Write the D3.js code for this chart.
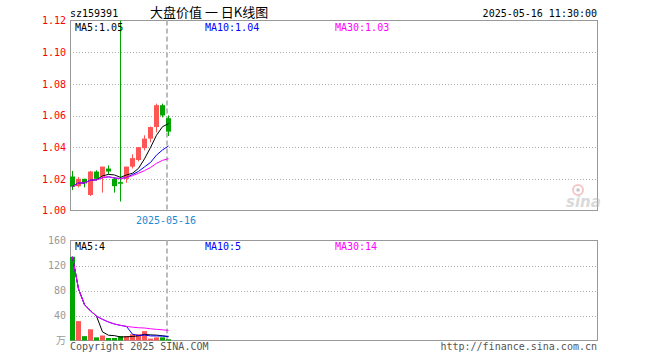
<!DOCTYPE html>
<html><head><meta charset="utf-8">
<script src="https://cdn.jsdelivr.net/npm/d3@7"></script>
<style>body{margin:0;background:#fff}svg{display:block}</style>
</head><body><svg id="c" width="660" height="360"></svg>
<script>
// ---- data ----
const code = "sz159391";
const title = "大盘价值 一 日K线图";
const stamp = "2025-05-16 11:30:00";
const dates = ["2025-04-21","2025-04-22","2025-04-23","2025-04-24","2025-04-25","2025-04-28","2025-04-29","2025-04-30","2025-05-06","2025-05-07","2025-05-08","2025-05-09","2025-05-12","2025-05-13","2025-05-14","2025-05-15","2025-05-16"];
const opens  = [1.0215,1.0154,1.0200,1.0098,1.0246,1.0213,1.0265,1.0200,1.0179,1.0200,1.0277,1.0319,1.0394,1.0454,1.0527,1.0665,1.0583];
const highs  = [1.0250,1.0212,1.0201,1.0250,1.0254,1.0277,1.0285,1.0208,1.1200,1.0277,1.0355,1.0400,1.0475,1.0530,1.0675,1.0675,1.0600];
const lows   = [1.0129,1.0146,1.0146,1.0092,1.0192,1.0113,1.0227,1.0113,1.0057,1.0175,1.0265,1.0310,1.0379,1.0431,1.0494,1.0588,1.0471];
const closes = [1.0150,1.0200,1.0171,1.0246,1.0200,1.0277,1.0246,1.0154,1.0169,1.0277,1.0331,1.0400,1.0454,1.0527,1.0665,1.0600,1.0498];
const volumes = [134,31,7,18,5,8,4,4,7,7,10,10,15,3,5,5,2];
const priceTicks = [1.00,1.02,1.04,1.06,1.08,1.10,1.12];
const volTicks = [40,80,120,160];
const volUnit = "万";
const priceMALabels = ["MA5:1.05","MA10:1.04","MA30:1.03"];
const volMALabels = ["MA5:4","MA10:5","MA30:14"];
const maPeriods = [5,10,30];
const maColors = ["#000000","#0000ff","#ff00ff"];
const slots = 88;

// ---- setup ----
const svg = d3.select("#c");
const L = 70, R = 597;
const mono = "'DejaVu Sans Mono', monospace";
const x = d3.scaleLinear().domain([0, slots]).range([L, L + slots * 6]);
const yP = d3.scaleLinear().domain([1.00, 1.12]).range([210.5, 20.5]);
const yV = d3.scaleLinear().domain([0, 160]).range([340.5, 240.5]);
const bw = 5;
const idx = d3.range(dates.length);
const up = i => closes[i] >= opens[i];
const RED = "#ff5555", GREEN = "#00a600";

function ma(arr, n) { return arr.map((_, i) => d3.mean(arr.slice(Math.max(0, i - n + 1), i + 1))); }

// titles
svg.append("text").attr("x", L).attr("y", 16.5).attr("font-family", mono).attr("font-size", 10).text(code);
svg.append("text").attr("x", 150).attr("y", 17).attr("font-family", "'Noto Sans CJK SC', sans-serif").attr("font-size", 13).text(title);
svg.append("text").attr("x", R).attr("y", 16.5).attr("text-anchor", "end").attr("font-family", mono).attr("font-size", 10).text(stamp);

function panel(y, ticks, gridTicks, color, fmt) {
  const g = svg.append("g");
  g.selectAll("line.grid").data(gridTicks).join("line")
    .attr("x1", L).attr("x2", R).attr("y1", d => Math.round(y(d)) + 0.5).attr("y2", d => Math.round(y(d)) + 0.5)
    .attr("stroke", "#aaa").attr("stroke-dasharray", "1,2");
  const ax = d3.axisLeft(y).tickValues(ticks).tickSize(0).tickPadding(4).tickFormat(fmt);
  const a = svg.append("g").attr("transform", `translate(${L},0)`).call(ax);
  a.select(".domain").remove();
  a.selectAll("text").attr("fill", color).attr("font-family", mono).attr("font-size", 10);
  const [y0, y1] = y.range();
  svg.append("rect").attr("x", L + 0.5).attr("y", y1).attr("width", R - L).attr("height", y0 - y1)
    .attr("fill", "none").attr("stroke", "#999");
  const last = idx[idx.length - 1];
  svg.append("line").attr("x1", x(last) + 1).attr("x2", x(last) + 1).attr("y1", y1).attr("y2", y0)
    .attr("stroke", "#bbb").attr("stroke-width", 2).attr("stroke-dasharray", "5,3");
}

// price panel
panel(yP, priceTicks, priceTicks.slice(1, -1), "#ff0000", d3.format(".2f"));
// volume panel
panel(yV, volTicks, volTicks.slice(0, -1), "#999", d3.format("d"));
svg.append("text").attr("x", 66).attr("y", 343.5).attr("text-anchor", "end").attr("fill", "#999")
  .attr("font-family", "'Noto Sans CJK SC', sans-serif").attr("font-size", 10).text(volUnit);

// sina watermark
const wm = svg.append("g").attr("opacity", 0.55);
wm.append("circle").attr("cx", 578).attr("cy", 190).attr("r", 5).attr("fill", "none").attr("stroke", "#f19a9a").attr("stroke-width", 2);
wm.append("circle").attr("cx", 578).attr("cy", 190).attr("r", 1.8).attr("fill", "#999");
wm.append("text").attr("x", 566).attr("y", 207).attr("font-family", "'DejaVu Sans', sans-serif").attr("font-style", "italic")
  .attr("font-weight", "bold").attr("font-size", 15).attr("fill", "#bbb").text("sina");

// candles
const cg = svg.append("g");
cg.selectAll("rect.wick").data(idx).join("rect")
  .attr("x", i => x(i) + 2).attr("width", 1)
  .attr("y", i => yP(highs[i])).attr("height", i => Math.max(1, yP(lows[i]) - yP(highs[i])))
  .attr("fill", i => up(i) ? RED : GREEN);
cg.selectAll("rect.body").data(idx).join("rect")
  .attr("x", i => x(i)).attr("width", bw)
  .attr("y", i => yP(Math.max(opens[i], closes[i])))
  .attr("height", i => Math.max(1, Math.abs(yP(opens[i]) - yP(closes[i]))))
  .attr("fill", i => up(i) ? RED : GREEN);

// volume bars
svg.append("g").selectAll("rect").data(idx).join("rect")
  .attr("x", i => x(i)).attr("width", bw)
  .attr("y", i => yV(volumes[i])).attr("height", i => yV(0) - yV(volumes[i]))
  .attr("fill", i => up(i) ? RED : GREEN);

// MA lines
maPeriods.forEach((n, k) => {
  const mp = ma(closes, n), mv = ma(volumes, n);
  svg.append("path").datum(idx).attr("fill", "none").attr("stroke", maColors[k]).attr("stroke-width", 1)
    .attr("d", d3.line().x(i => x(i) + 2.5).y(i => yP(mp[i])));
  svg.append("path").datum(idx).attr("fill", "none").attr("stroke", maColors[k]).attr("stroke-width", 1)
    .attr("d", d3.line().x(i => x(i) + 2.5).y(i => yV(mv[i])));
});

// MA labels
const labX = [75, 205, 335];
priceMALabels.forEach((t, k) => svg.append("text").attr("x", labX[k]).attr("y", 31).attr("fill", maColors[k])
  .attr("font-family", mono).attr("font-size", 10).text(t));
volMALabels.forEach((t, k) => svg.append("text").attr("x", labX[k]).attr("y", 250).attr("fill", maColors[k])
  .attr("font-family", mono).attr("font-size", 10).text(t));

// date label under price panel
svg.append("text").attr("x", x(idx.length - 1)).attr("y", 224).attr("text-anchor", "middle").attr("fill", "#1a8ad4")
  .attr("font-family", mono).attr("font-size", 10).text(dates[dates.length - 1]);

// footer
svg.append("text").attr("x", L).attr("y", 350).attr("font-family", mono).attr("font-size", 10).attr("fill", "#555").text("Copyright 2025 SINA.COM");
svg.append("text").attr("x", R).attr("y", 350).attr("text-anchor", "end").attr("font-family", mono).attr("font-size", 10).attr("fill", "#555").text("http://finance.sina.com.cn");
</script></body></html>
